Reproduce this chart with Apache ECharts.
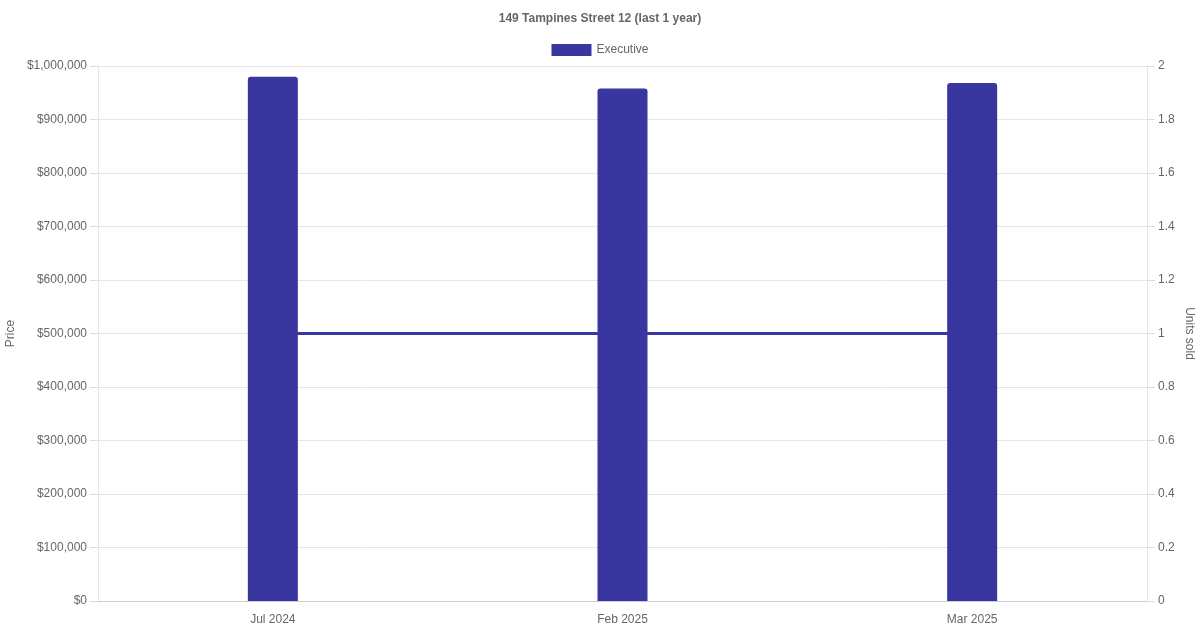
<!DOCTYPE html>
<html>
<head>
	<meta charset="utf-8">
	<title>149 Tampines Street 12</title>
	<script src="https://cdn.jsdelivr.net/npm/echarts@6/dist/echarts.min.js"></script>
	<style>
		html, body { margin: 0; padding: 0; background: #fff; }
		#main_echarts { width: 1200px; height: 630px; }
	</style>
</head>
<body>
<div id="main_echarts"></div>
<script>
	// data
	var months = ['Jul 2024', 'Feb 2025', 'Mar 2025'];
	var prices = [980000, 958000, 968000];
	var unitsSold = [1, 1, 1];
	var priceTicks = { min: 0, max: 1000000, interval: 100000 };
	var unitTicks = { min: 0, max: 2, interval: 0.2 };

	var barColor = '#3936a0';
	var font = 'Liberation Sans, Arial, sans-serif';

	var myChart = echarts.init(document.getElementById('main_echarts'));
	var option = {
		animation: false,
		textStyle: { fontFamily: font },
		title: {
			text: '149 Tampines Street 12 (last 1 year)',
			left: 'center',
			top: 8,
			textStyle: { fontSize: 12, fontWeight: 'bold', color: '#666', fontFamily: font }
		},
		legend: {
			data: ['Executive'],
			top: 44,
			left: 'center',
			icon: 'rect',
			itemWidth: 40,
			itemHeight: 12,
			itemGap: 10,
			padding: 0,
			textStyle: { fontSize: 12, color: '#666', fontFamily: font }
		},
		grid: { left: 98, right: 53, top: 66, bottom: 29, containLabel: false, outerBoundsMode: 'none' },
		xAxis: {
			type: 'category',
			data: months,
			axisLine: { lineStyle: { color: '#ccc' } },
			axisTick: { show: false },
			axisLabel: { color: '#666', fontSize: 12, margin: 13, fontFamily: font },
			splitLine: { show: false }
		},
		yAxis: [
			{
				type: 'value',
				position: 'left',
				min: priceTicks.min,
				max: priceTicks.max,
				interval: priceTicks.interval,
				name: 'Price',
				nameLocation: 'middle',
				nameGap: 81,
				nameMoveOverlap: false,
				nameTextStyle: { color: '#666', fontSize: 12, fontFamily: font },
				axisLine: { show: true, lineStyle: { color: '#e6e6e6' } },
				axisTick: { show: true, length: 8, lineStyle: { color: '#dddddd' } },
				axisLabel: {
					color: '#666', fontSize: 12, margin: 11, fontFamily: font,
					formatter: function (v) { return '$' + v.toLocaleString('en-US'); }
				},
				splitLine: { lineStyle: { color: '#e6e6e6' } }
			},
			{
				type: 'value',
				position: 'right',
				min: unitTicks.min,
				max: unitTicks.max,
				interval: unitTicks.interval,
				name: 'Units sold',
				nameLocation: 'middle',
				nameGap: 36,
				nameMoveOverlap: false,
				nameRotate: -90,
				nameTextStyle: { color: '#666', fontSize: 12, fontFamily: font },
				axisLine: { show: true, lineStyle: { color: '#e6e6e6' } },
				axisTick: { show: true, length: 8, lineStyle: { color: '#dddddd' } },
				axisLabel: {
					color: '#666', fontSize: 12, margin: 11, fontFamily: font,
					formatter: function (v) { return String(Math.round(v * 10) / 10); }
				},
				splitLine: { show: false }
			}
		],
		series: [
			{
				name: 'Executive',
				type: 'bar',
				yAxisIndex: 0,
				data: prices,
				barWidth: 50,
				z: 3,
				itemStyle: { color: barColor, borderRadius: [3, 3, 0, 0] }
			},
			{
				name: 'Units sold',
				type: 'line',
				yAxisIndex: 1,
				data: unitsSold,
				z: 1,
				showSymbol: false,
				lineStyle: { color: barColor, width: 3 },
				itemStyle: { color: barColor }
			}
		]
	};
	myChart.setOption(option);
</script>
</body>
</html>
